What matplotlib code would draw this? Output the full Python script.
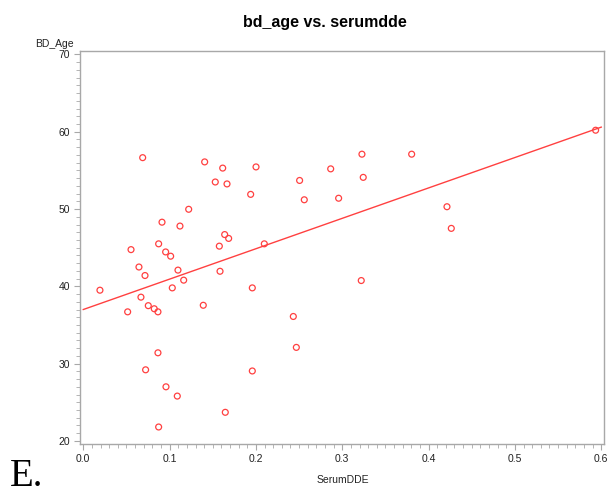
import numpy as np
import matplotlib
matplotlib.use("Agg")
import matplotlib.pyplot as plt
from matplotlib.ticker import MultipleLocator

plt.rcParams['font.family'] = ['Liberation Sans Narrow', 'Liberation Sans', 'DejaVu Sans']

# serum DDE vs. age at breast development
serum_dde = [0.0193, 0.0553, 0.0645, 0.0715, 0.0688, 0.0668, 0.0873, 0.0912, 0.0954,
             0.1012, 0.1031, 0.1097, 0.1120, 0.1163, 0.1221, 0.1406, 0.1529, 0.1615,
             0.1665, 0.1576, 0.1638, 0.1684, 0.1584, 0.1939, 0.2001, 0.2097, 0.1958,
             0.0514, 0.0753, 0.0822, 0.0865, 0.1390, 0.0865, 0.0722, 0.0958, 0.1089,
             0.1645, 0.0873, 0.1958, 0.2506, 0.2560, 0.2866, 0.2958, 0.3228, 0.3243,
             0.3804, 0.3220, 0.2433, 0.2468, 0.4213, 0.4263, 0.5935]
bd_age = [39.5, 44.75, 42.5, 41.4, 56.65, 38.6, 45.5, 48.3, 44.45,
          43.9, 39.8, 42.1, 47.8, 40.8, 49.97, 56.1, 53.5, 55.3,
          53.25, 45.2, 46.7, 46.2, 41.95, 51.9, 55.45, 45.5, 39.8,
          36.7, 37.5, 37.1, 36.7, 37.55, 31.4, 29.2, 27.0, 25.8,
          23.7, 21.8, 29.05, 53.7, 51.2, 55.2, 51.4, 57.1, 54.1,
          57.1, 40.75, 36.1, 32.1, 50.3, 47.5, 60.2]

# regression line end points
fit_x = [0.0, 0.6]
fit_y = [37.0, 60.6]

red = '#ff4040'
gray = '#a8a8a8'

fig = plt.figure(figsize=(6.1, 4.95), dpi=100)
ax = fig.add_axes([80 / 610, 1 - 444 / 495, 524 / 610, 393 / 495])

ax.plot(fit_x, fit_y, color=red, lw=1.0)
ax.scatter(serum_dde, bd_age, s=18, facecolors='none', edgecolors=red, linewidths=0.9, zorder=3)

ax.set_xlim(-0.0038, 0.6032)
ax.set_ylim(19.6, 70.45)
ax.xaxis.set_major_locator(MultipleLocator(0.1))
ax.xaxis.set_minor_locator(MultipleLocator(0.01))
ax.yaxis.set_major_locator(MultipleLocator(10))
ax.yaxis.set_minor_locator(MultipleLocator(1))
ax.xaxis.set_major_formatter(matplotlib.ticker.FormatStrFormatter('%.1f'))

for s in ax.spines.values():
    s.set_color(gray)
    s.set_linewidth(1.0)
ax.tick_params(which='both', colors=gray, labelcolor='#222222', labelsize=7.5, direction='out')
ax.tick_params(which='major', length=4, pad=3)
ax.tick_params(which='minor', length=3)

fig.text(325 / 610, 1 - 22 / 495, 'bd_age vs. serumdde', ha='center', va='center',
         fontsize=11.5, fontweight='bold')
fig.text(74 / 610, 1 - 44 / 495, 'BD_Age', ha='right', va='center', fontsize=7.5, color='#222222')
fig.text(343 / 610, 1 - 480 / 495, 'SerumDDE', ha='center', va='center', fontsize=7.5, color='#222222')
fig.text(10 / 610, 1 - 476 / 495, 'E.', ha='left', va='center', fontsize=28,
         family=['Liberation Serif', 'DejaVu Serif'])

fig.savefig('out.png', dpi=100)
